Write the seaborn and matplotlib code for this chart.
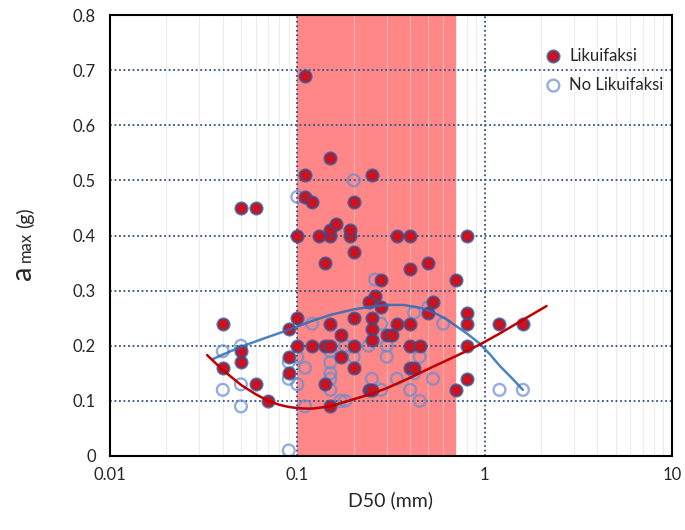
import numpy as np
import pandas as pd
import seaborn as sns
import matplotlib.pyplot as plt

# Likuifaksi points (D50 in mm, amax in g)
liq_d50 = [0.11, 0.15, 0.11, 0.25, 0.11, 0.12, 0.20, 0.05, 0.06,
           0.10, 0.13, 0.15, 0.19, 0.34, 0.40, 0.80, 0.15, 0.16, 0.19,
           0.20, 0.14, 0.50, 0.40, 0.28, 0.70, 0.26, 0.24, 0.28, 0.53,
           0.50, 0.80, 0.10, 0.20, 0.25, 0.04, 0.15, 0.34, 0.40, 0.80,
           1.20, 1.60, 0.09, 0.25, 0.17, 0.30, 0.32, 0.25, 0.10, 0.12,
           0.14, 0.15, 0.20, 0.40, 0.45, 0.80, 0.05, 0.09, 0.17, 0.05,
           0.04, 0.20, 0.40, 0.42, 0.09, 0.80, 0.06, 0.14, 0.24, 0.25,
           0.70, 0.07, 0.15]
liq_amax = [0.69, 0.54, 0.51, 0.51, 0.47, 0.46, 0.46, 0.45, 0.45,
            0.40, 0.40, 0.40, 0.40, 0.40, 0.40, 0.40, 0.41, 0.42, 0.41,
            0.37, 0.35, 0.35, 0.34, 0.32, 0.32, 0.29, 0.28, 0.27, 0.28,
            0.26, 0.26, 0.25, 0.25, 0.25, 0.24, 0.24, 0.24, 0.24, 0.24,
            0.24, 0.24, 0.23, 0.23, 0.22, 0.22, 0.22, 0.21, 0.20, 0.20,
            0.20, 0.20, 0.20, 0.20, 0.20, 0.20, 0.19, 0.18, 0.18, 0.17,
            0.16, 0.16, 0.16, 0.16, 0.15, 0.14, 0.13, 0.13, 0.12, 0.12,
            0.12, 0.10, 0.09]

# No Likuifaksi points
noliq_d50 = [0.10, 0.20, 0.26, 0.50, 0.42, 0.12, 0.28, 0.60, 0.18,
             0.24, 0.30, 0.15, 0.10, 0.20, 0.30, 0.45, 0.15, 0.11, 0.15,
             0.42, 0.10, 0.15, 0.25, 0.34, 0.53, 0.15, 0.28, 0.40, 1.20,
             1.60, 0.17, 0.18, 0.45, 0.11, 0.04, 0.04, 0.05, 0.05, 0.05,
             0.09, 0.09, 0.09]
noliq_amax = [0.47, 0.50, 0.32, 0.27, 0.26, 0.24, 0.24, 0.24, 0.20,
              0.20, 0.20, 0.19, 0.18, 0.18, 0.18, 0.18, 0.17, 0.16, 0.15,
              0.15, 0.13, 0.14, 0.14, 0.14, 0.14, 0.12, 0.12, 0.12, 0.12,
              0.12, 0.10, 0.10, 0.10, 0.09, 0.19, 0.12, 0.20, 0.13, 0.09,
              0.17, 0.14, 0.01]

# trendlines
blue_d50 = [0.035, 0.04, 0.05, 0.06, 0.07, 0.085, 0.10, 0.12, 0.15, 0.20, 0.25, 0.30,
            0.37, 0.45, 0.53, 0.62, 0.71, 0.82, 0.94, 1.07, 1.20, 1.40, 1.60]
blue_amax = [0.175, 0.184, 0.198, 0.208, 0.216, 0.226, 0.235, 0.245, 0.256, 0.266, 0.271, 0.274,
             0.274, 0.269, 0.261, 0.249, 0.235, 0.220, 0.204, 0.184, 0.164, 0.141, 0.12]
red_d50 = [0.033, 0.04, 0.05, 0.06, 0.07, 0.08, 0.09, 0.10, 0.11, 0.12, 0.15, 0.20,
           0.25, 0.30, 0.40, 0.53, 0.70, 0.94, 1.20, 1.60, 2.14]
red_amax = [0.183, 0.156, 0.129, 0.112, 0.100, 0.093, 0.089, 0.087, 0.086, 0.086, 0.090, 0.103,
            0.113, 0.123, 0.142, 0.162, 0.181, 0.202, 0.222, 0.247, 0.272]

x_ticks = [0.01, 0.1, 1, 10]
x_ticklabels = ['0.01', '0.1', '1', '10']
y_ticks = [0, 0.1, 0.2, 0.3, 0.4, 0.5, 0.6, 0.7, 0.8]
y_ticklabels = ['0', '0.1', '0.2', '0.3', '0.4', '0.5', '0.6', '0.7', '0.8']

sns.set_style('white')
plt.rcParams['font.family'] = ['Lato', 'DejaVu Sans']

fig = plt.figure(figsize=(6.85, 5.3), dpi=100)
ax = fig.add_axes([110 / 685, 1 - 456 / 530, (672 - 110) / 685, (456 - 15) / 530])

ax.set_xscale('log')
ax.set_xlim(0.01, 10)
ax.set_ylim(0, 0.8)

# shaded zone
ax.axvspan(0.1, 0.7, color='#ff8787', zorder=0, lw=0)

# grid
minor = [m * 10.0 ** e for e in (-2, -1, 0) for m in range(2, 10)]
for v in minor:
    ax.axvline(v, color='#dcdcdc', lw=0.8, alpha=0.5, zorder=0.5)
for v in [0.1, 1]:
    ax.axvline(v, color='#2f4f86', lw=1.3, ls=(0, (1, 1.5)), zorder=0.6)
for v in y_ticks[1:-1]:
    ax.axhline(v, color='#2f4f86', lw=1.3, ls=(0, (1, 1.5)), zorder=0.6)

df_noliq = pd.DataFrame({'D50': noliq_d50, 'amax': noliq_amax})
df_liq = pd.DataFrame({'D50': liq_d50, 'amax': liq_amax})

mk = 72
sns.scatterplot(data=df_noliq, x='D50', y='amax', ax=ax, s=mk, marker='o',
                facecolor='none', edgecolor=(0.40, 0.55, 0.82, 0.7), linewidth=1.7,
                zorder=2)
sns.scatterplot(data=df_liq, x='D50', y='amax', ax=ax, s=mk, marker='o',
                color='#d0101c', edgecolor=(0.22, 0.30, 0.55, 0.75), linewidth=1.7,
                zorder=3)

df_blue = pd.DataFrame({'D50': blue_d50, 'amax': blue_amax})
df_red = pd.DataFrame({'D50': red_d50, 'amax': red_amax})
sns.lineplot(data=df_blue, x='D50', y='amax', ax=ax, color='#2e6db4', alpha=0.85,
             lw=1.8, zorder=4, sort=False)
sns.lineplot(data=df_red, x='D50', y='amax', ax=ax, color='#c00000', lw=1.8, zorder=4, sort=False)

ax.set_xticks(x_ticks)
ax.set_xticklabels(x_ticklabels)
ax.xaxis.set_minor_locator(plt.NullLocator())
ax.set_yticks(y_ticks)
ax.set_yticklabels(y_ticklabels)
ax.tick_params(axis='both', length=0, labelsize=12, pad=10)
ax.tick_params(axis='x', pad=8)

for sp in ax.spines.values():
    sp.set_color('black')
    sp.set_linewidth(1.5)
    sp.set_visible(True)

ax.set_xlabel('D50 (mm)', fontsize=14, labelpad=6)
ax.set_ylabel('')

# y label pieces: big "a", small "max", then "(g)"
fig.text(31 / 685, 1 - 280 / 530, 'a', fontsize=21, rotation=90, rotation_mode='anchor',
         ha='left', va='baseline')
fig.text(31 / 685, 1 - 262 / 530, 'max', fontsize=12, rotation=90, rotation_mode='anchor',
         ha='left', va='baseline')
fig.text(31 / 685, 1 - 228 / 530, '(g)', fontsize=14, rotation=90, rotation_mode='anchor',
         ha='left', va='baseline')

# legend
h1 = ax.scatter([], [], s=mk, color='#d0101c', edgecolor=(0.22, 0.30, 0.55, 0.75), linewidth=1.7)
h2 = ax.scatter([], [], s=mk, facecolor='none', edgecolor=(0.40, 0.55, 0.82, 0.7), linewidth=1.7)
ax.legend([h1, h2], ['Likuifaksi', 'No Likuifaksi'], loc='upper left',
          bbox_to_anchor=(0.74, 0.96), frameon=False, fontsize=12,
          handletextpad=0.2, labelspacing=0.8, handlelength=1.5)

fig.savefig('out.png', dpi=100)
